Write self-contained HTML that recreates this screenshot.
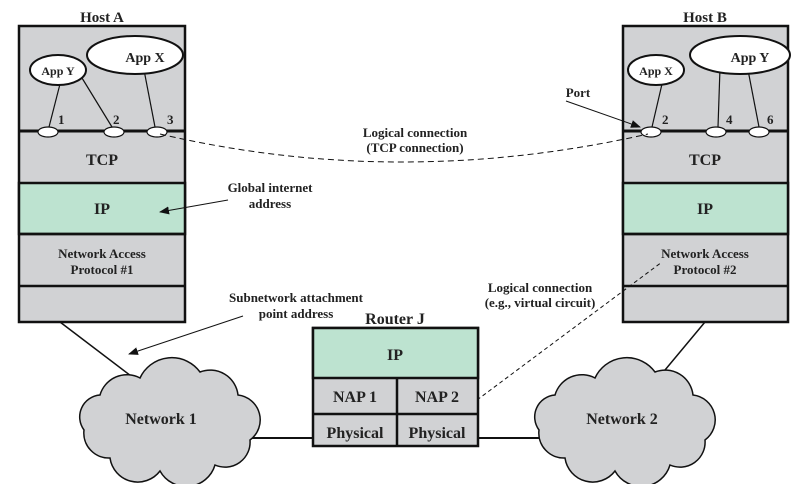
<!DOCTYPE html>
<html><head><meta charset="utf-8"><style>
html,body{margin:0;padding:0;background:#fff;}
svg{display:block;}
text{font-family:"Liberation Serif",serif;font-weight:bold;fill:#222;}
</style></head><body>
<svg width="800" height="484" viewBox="0 0 800 484" xmlns="http://www.w3.org/2000/svg">
<defs>
<marker id="ar" markerWidth="10" markerHeight="8" refX="9" refY="4" orient="auto" markerUnits="userSpaceOnUse">
<path d="M0,0 L10,4 L0,8 Z" fill="#111"/></marker>
</defs>
<g stroke="#111" stroke-width="2.5">
<rect x="19" y="26" width="166" height="296" fill="#d1d2d4"/>
<rect x="19" y="183" width="166" height="51" fill="#bde3d0"/>
<line x1="19" y1="234" x2="185" y2="234"/>
<line x1="19" y1="286" x2="185" y2="286"/>
<line x1="19" y1="131" x2="185" y2="131" stroke-width="3"/>
</g>
<text x="102" y="22" font-size="15" text-anchor="middle">Host A</text>
<g stroke="#111" stroke-width="1.2" fill="none">
<line x1="60" y1="84" x2="49" y2="127"/>
<line x1="82" y1="78" x2="112" y2="127"/>
<line x1="144" y1="70" x2="155" y2="127"/>
</g>
<ellipse cx="58" cy="70" rx="28" ry="15" fill="#fff" stroke="#111" stroke-width="2"/>
<ellipse cx="135" cy="55" rx="48" ry="19" fill="#fff" stroke="#111" stroke-width="2"/>
<text x="58" y="75" font-size="12" text-anchor="middle">App Y</text>
<text x="145" y="62" font-size="14" text-anchor="middle">App X</text>
<g fill="#fff" stroke="#111" stroke-width="1.2">
<ellipse cx="48" cy="132" rx="10" ry="5"/>
<ellipse cx="114" cy="132" rx="10" ry="5"/>
<ellipse cx="157" cy="132" rx="10" ry="5"/>
</g>
<text x="58" y="124" font-size="13">1</text>
<text x="113" y="124" font-size="13">2</text>
<text x="167" y="124" font-size="13">3</text>
<text x="102" y="165" font-size="16" text-anchor="middle">TCP</text>
<text x="102" y="214" font-size="16" text-anchor="middle">IP</text>
<text x="102" y="258" font-size="13" text-anchor="middle">Network Access</text>
<text x="102" y="274" font-size="13" text-anchor="middle">Protocol #1</text>

<g stroke="#111" stroke-width="2.5">
<rect x="623" y="26" width="165" height="296" fill="#d1d2d4"/>
<rect x="623" y="183" width="165" height="51" fill="#bde3d0"/>
<line x1="623" y1="234" x2="788" y2="234"/>
<line x1="623" y1="286" x2="788" y2="286"/>
<line x1="623" y1="131" x2="788" y2="131" stroke-width="3"/>
</g>
<text x="705" y="22" font-size="15" text-anchor="middle">Host B</text>
<g stroke="#111" stroke-width="1.2" fill="none">
<line x1="662" y1="84" x2="652" y2="127"/>
<line x1="720" y1="68" x2="718" y2="127"/>
<line x1="748" y1="70" x2="759" y2="127"/>
</g>
<ellipse cx="656" cy="70" rx="28" ry="15" fill="#fff" stroke="#111" stroke-width="2"/>
<ellipse cx="740" cy="55" rx="50" ry="19" fill="#fff" stroke="#111" stroke-width="2"/>
<text x="656" y="75" font-size="12" text-anchor="middle">App X</text>
<text x="750" y="62" font-size="14" text-anchor="middle">App Y</text>
<g fill="#fff" stroke="#111" stroke-width="1.2">
<ellipse cx="651" cy="132" rx="10" ry="5"/>
<ellipse cx="716" cy="132" rx="10" ry="5"/>
<ellipse cx="759" cy="132" rx="10" ry="5"/>
</g>
<text x="662" y="124" font-size="13">2</text>
<text x="726" y="124" font-size="13">4</text>
<text x="767" y="124" font-size="13">6</text>
<text x="705" y="165" font-size="16" text-anchor="middle">TCP</text>
<text x="705" y="214" font-size="16" text-anchor="middle">IP</text>
<text x="705" y="258" font-size="13" text-anchor="middle">Network Access</text>
<text x="705" y="274" font-size="13" text-anchor="middle">Protocol #2</text>

<path d="M160,134 Q400,190 648,134" fill="none" stroke="#111" stroke-width="1" stroke-dasharray="6,4"/>
<text x="415" y="137" font-size="13" text-anchor="middle">Logical connection</text>
<text x="415" y="152" font-size="13" text-anchor="middle">(TCP connection)</text>

<text x="578" y="97" font-size="13" text-anchor="middle">Port</text>
<line x1="566" y1="101" x2="640" y2="127" stroke="#111" stroke-width="1" marker-end="url(#ar)"/>

<text x="270" y="192" font-size="13" text-anchor="middle">Global internet</text>
<text x="270" y="208" font-size="13" text-anchor="middle">address</text>
<line x1="228" y1="200" x2="160" y2="212" stroke="#111" stroke-width="1" marker-end="url(#ar)"/>

<text x="296" y="302" font-size="13" text-anchor="middle">Subnetwork attachment</text>
<text x="296" y="318" font-size="13" text-anchor="middle">point address</text>
<line x1="243" y1="316" x2="129" y2="354" stroke="#111" stroke-width="1" marker-end="url(#ar)"/>

<text x="540" y="292" font-size="13" text-anchor="middle">Logical connection</text>
<text x="540" y="307" font-size="13" text-anchor="middle">(e.g., virtual circuit)</text>
<line x1="477" y1="400" x2="662" y2="262" stroke="#111" stroke-width="1" stroke-dasharray="4,3"/>

<line x1="60" y1="322" x2="131" y2="376" stroke="#111" stroke-width="1.5"/>
<line x1="705" y1="322" x2="660" y2="376" stroke="#111" stroke-width="1.5"/>
<line x1="243" y1="438" x2="313" y2="438" stroke="#111" stroke-width="2"/>
<line x1="478" y1="438" x2="545" y2="438" stroke="#111" stroke-width="2"/>

<path d="M100,395 A28,28 0 0 1 140,378 A35,35 0 0 1 200,372 A28,28 0 0 1 238,395 A25,25 0 0 1 250,440 A25,25 0 0 1 215,465 A30,30 0 0 1 160,471 A28,28 0 0 1 110,458 A25,25 0 0 1 84,430 A22,22 0 0 1 100,395 Z" fill="#d1d2d4" stroke="#111" stroke-width="1.5"/>
<path d="M100,395 A28,28 0 0 1 140,378 A35,35 0 0 1 200,372 A28,28 0 0 1 238,395 A25,25 0 0 1 250,440 A25,25 0 0 1 215,465 A30,30 0 0 1 160,471 A28,28 0 0 1 110,458 A25,25 0 0 1 84,430 A22,22 0 0 1 100,395 Z" transform="translate(455,0)" fill="#d1d2d4" stroke="#111" stroke-width="1.5"/>
<text x="161" y="424" font-size="16" text-anchor="middle">Network 1</text>
<text x="622" y="424" font-size="16" text-anchor="middle">Network 2</text>

<text x="395" y="324" font-size="16" text-anchor="middle">Router J</text>
<g stroke="#111" stroke-width="2.5">
<rect x="313" y="328" width="165" height="118" fill="#d1d2d4"/>
<rect x="313" y="328" width="165" height="50" fill="#bde3d0"/>
<line x1="313" y1="414" x2="478" y2="414"/>
<line x1="397" y1="378" x2="397" y2="446"/>
</g>
<text x="395" y="360" font-size="16" text-anchor="middle">IP</text>
<text x="355" y="402" font-size="16" text-anchor="middle">NAP 1</text>
<text x="437" y="402" font-size="16" text-anchor="middle">NAP 2</text>
<text x="355" y="438" font-size="16" text-anchor="middle">Physical</text>
<text x="437" y="438" font-size="16" text-anchor="middle">Physical</text>
</svg>
</body></html>
